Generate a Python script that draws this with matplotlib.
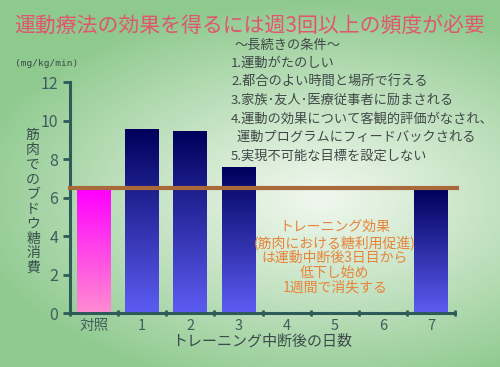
import matplotlib.pyplot as plt
import numpy as np

plt.rcParams['font.family'] = ['Noto Sans CJK JP', 'DejaVu Sans']

# data
days = ["対照", "1", "2", "3", "4", "5", "6", "7"]
uptake = [6.4, 9.55, 9.45, 7.55, 0, 0, 0, 6.4]
baseline = 6.5

title = "運動療法の効果を得るには週3回以上の頻度が必要"
ylab = "筋肉でのブドウ糖消費"
conditions = ["1.運動がたのしい",
              "2.都合のよい時間と場所で行える",
              "3.家族･友人･医療従事者に励まされる",
              "4.運動の効果について客観的評価がなされ、",
              "  運動プログラムにフィードバックされる",
              "5.実現不可能な目標を設定しない"]
note = "トレーニング効果\n(筋肉における糖利用促進)\nは運動中断後3日目から\n低下し始め\n1週間で消失する"

fig = plt.figure(figsize=(5, 3.67), dpi=100)

# background radial gradient
bg = fig.add_axes([0, 0, 1, 1], zorder=-10)
yy, xx = np.mgrid[0:1:200j, 0:1:200j]
r = np.sqrt(((xx - 0.64) / 1.0) ** 2 + ((yy - 0.54) / 0.75) ** 2)
r = np.clip(r / 0.72, 0, 1)
c0 = np.array([0.94, 0.97, 0.93])
c1 = np.array([0.56, 0.79, 0.56])
img = c0 + (c1 - c0) * r[..., None] ** 1.1
bg.imshow(img, extent=[0, 1, 0, 1], aspect='auto', origin='upper')
bg.axis('off')

ax = fig.add_axes([0.14, 0.147, 0.77, 0.6294])
ax.patch.set_alpha(0)
x = np.arange(len(days))
bars = ax.bar(x, uptake, width=0.7, color='none', edgecolor='none')

grad = np.linspace(0, 1, 100)[:, None]
for i, b in enumerate(bars):
    h = b.get_height()
    if h <= 0:
        continue
    if i == 0:
        top, bot = np.array([1.0, 0.0, 1.0]), np.array([1.0, 0.55, 0.82])
    else:
        top, bot = np.array([0.0, 0.0, 0.36]), np.array([0.36, 0.36, 0.95])
    cols = top + (bot - top) * grad[..., None]
    x0 = b.get_x()
    ax.imshow(cols, extent=[x0, x0 + b.get_width(), 0, h], aspect='auto', origin='upper', zorder=2)

ax.axhline(baseline, xmin=0, xmax=1.006, color='#a86a3a', lw=3, zorder=3, clip_on=False)

ax.set_xlim(-0.5, 7.5)
ax.set_ylim(0, 12)
axc = '#2e5a5a'
for s in ['top', 'right']:
    ax.spines[s].set_visible(False)
for s in ['left', 'bottom']:
    ax.spines[s].set_color(axc)
    ax.spines[s].set_linewidth(2.2)
ax.set_yticks(range(0, 13, 2))
ax.tick_params(axis='y', colors=axc, labelcolor='#3e5e5e', labelsize=11.5, width=2, length=5)
ax.set_xticks(x)
ax.set_xticklabels(days)
ax.tick_params(axis='x', length=0, labelcolor='#3e5e5e', labelsize=10.5, pad=4)
ax.set_xticks(np.arange(-0.5, 8, 1), minor=True)
ax.tick_params(axis='x', which='minor', length=4, width=2, color=axc, direction='inout')
ax.set_xlabel("トレーニング中断後の日数", fontsize=10.8, color='#3a4a4a', labelpad=1)

# vertical (stacked) y label, one character per row
step = 14.8 / 367
y0 = 1 - 135 / 367
for k, ch in enumerate(ylab):
    fig.text(0.066, y0 - k * step, ch, fontsize=10, color='#3a5050', ha='center', va='center')
fig.text(0.03, 0.826, "(mg/kg/min)", fontsize=6.8, family='DejaVu Sans Mono', color='#3a4a4a',
         ha='left', va='center')

fig.text(0.5, 0.928, title, fontsize=15, color='#e0566e', ha='center', va='center')
fig.text(0.575, 0.877, "～長続きの条件～", fontsize=9.5, color='#404848', ha='center', va='center')
for k, line in enumerate(conditions):
    fig.text(0.462, 0.828 - k * 0.0505, line, fontsize=9.5, color='#404848', ha='left', va='center')

ax.text(5.0, 2.9, note, fontsize=10, color='#e8843a', ha='center', va='center', linespacing=1.08, zorder=4)

fig.savefig("out.png", dpi=100)
